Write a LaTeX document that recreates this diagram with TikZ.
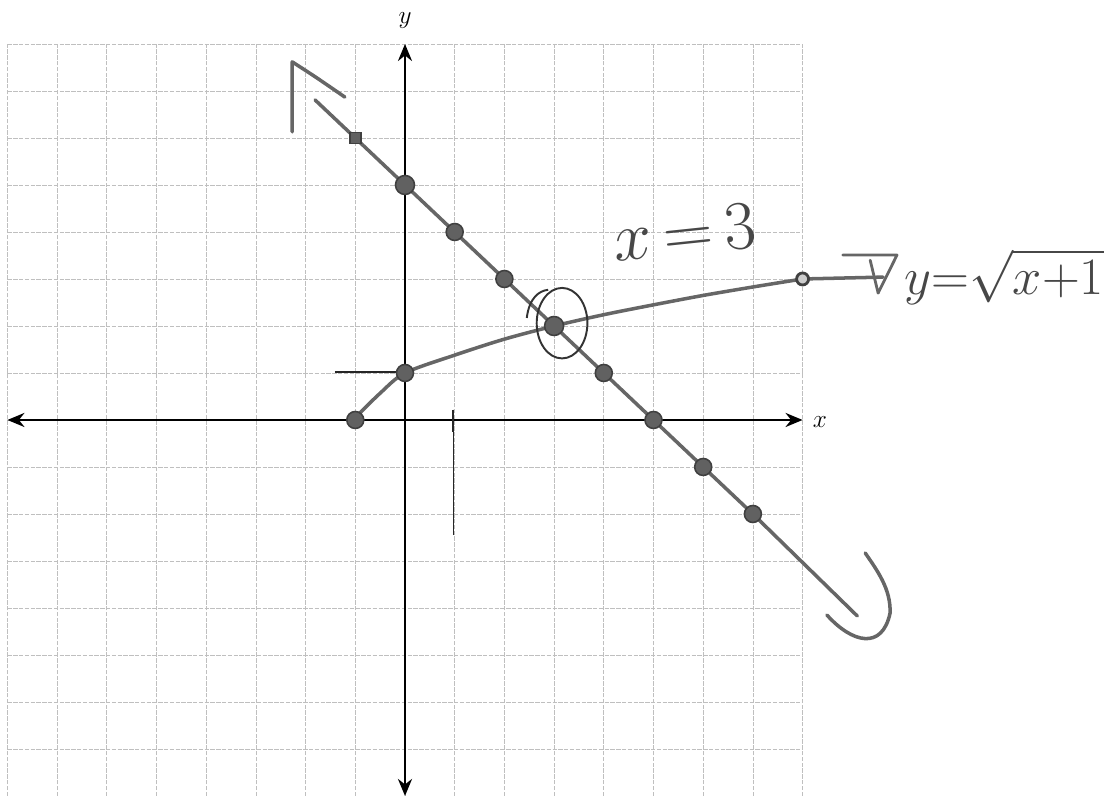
\documentclass[tikz,border=0pt]{standalone}
\usetikzlibrary{arrows.meta,positioning}

\begin{document}
\begin{tikzpicture}[
  x=0.994cm, y=0.94cm,
  gridline/.style={gray!50, line width=0.45pt, dash pattern=on 2.5pt off 0.8pt},
  axis/.style={{Stealth[length=3.4mm,width=2.8mm]}-{Stealth[length=3.4mm,width=2.8mm]}, line width=1.5pt},
  pencil/.style={black!60, line width=2pt, line cap=round, line join=round},
  strayline/.style={black!85, line width=0.7pt},
  dot/.style={circle, draw=black!75, fill=black!62, line width=0.9pt, inner sep=0pt, minimum size=0.34cm},
  hand/.style={text=black!72, font=\huge}
]
  \useasboundingbox (-8.149,-8.0) rectangle (14.145,8.936);

  % Grid
  \foreach \k in {-8,...,8} {
    \draw[gridline] (\k,-8) -- (\k,8);
    \draw[gridline] (-8,\k) -- (8,\k);
  }

  % Axes
  \draw[axis] (-8,0) -- (8,0);
  \draw[axis] (0,-8) -- (0,8);
  \node[font=\Large] (xlab) at (8.35,-0.05) {$x$};
  \node[font=\Large] (ylab) at (0,8.5) {$y$};

  % Stray marks
  \draw[strayline] (-1.41,1.02) -- (0,1.02);
  \draw[strayline] (0.97,0.22) -- (0.97,-2.45);
  \draw[strayline, line width=1.4pt] (0.97,0.22) -- (0.97,-0.25);

  % Line y = 5 - x
  \coordinate (ltop) at (-1.81,6.81);
  \coordinate (lbot) at (9.1,-4.17);
  \draw[pencil] (ltop) -- (7,-2) -- (lbot);
  \draw[pencil] (-2.27,6.13) -- (-2.27,7.62) .. controls (-1.8,7.3) .. (-1.21,6.87);
  \draw[pencil] (8.49,-4.15) .. controls (9.0,-4.75) and (9.6,-4.9) .. (9.76,-4.11)
    .. controls (9.78,-3.6) and (9.5,-3.2) .. (9.26,-2.83);

  % Curve y = sqrt(x+1)
  \coordinate (cend) at (9.62,3.04);
  \draw[pencil] plot[smooth] coordinates {(-1,0.05) (-0.5,0.57) (0,1) (1,1.38) (2,1.72)
    (3,2) (4,2.24) (5,2.45) (6,2.65) (7,2.83) (8,3)} -- (cend);
  \draw[pencil, line width=1.6pt] (8.81,3.51) -- (9.9,3.51) -- (9.52,2.70) -- (9.36,3.40);

  % Points on the line
  \node[dot, rectangle, minimum size=0.22cm] (l1) at (-1,6) {};
  \node[dot, minimum size=0.38cm] (l2) at (0,5) {};
  \node[dot] (l3) at (1,4) {};
  \node[dot] (l4) at (2,3) {};
  \node[dot] (l6) at (4,1) {};
  \node[dot] (l7) at (5,0) {};
  \node[dot] (l8) at (6,-1) {};
  \node[dot] (l9) at (7,-2) {};

  % Points on the curve
  \node[dot] (c1) at (-1,0) {};
  \node[dot] (c2) at (0,1) {};
  \node[dot, minimum size=0.38cm] (cx) at (3,2) {};
  \node[dot, fill=black!20, line width=1.6pt, minimum size=0.24cm] (c4) at (8,3) {};

  % Intersection
  \draw[black!80, line width=1.1pt] (3.16,2.06) ellipse [x radius=0.51, y radius=0.75];
  \draw[black!80, line width=1.1pt] (2.45,2.17) .. controls (2.5,2.6) and (2.7,2.75) .. (2.88,2.77);
  \node[hand, scale=1.9, rotate=6] (sol) at (5.63,4.0) {$x\mkern-2mu=\mkern-2mu3$};
  \node[hand, scale=1.44, inner sep=0pt, anchor=base west] (eqn) at (10.04,2.68) {$y{=}\sqrt{x{+}1}$};
\end{tikzpicture}
\end{document}
